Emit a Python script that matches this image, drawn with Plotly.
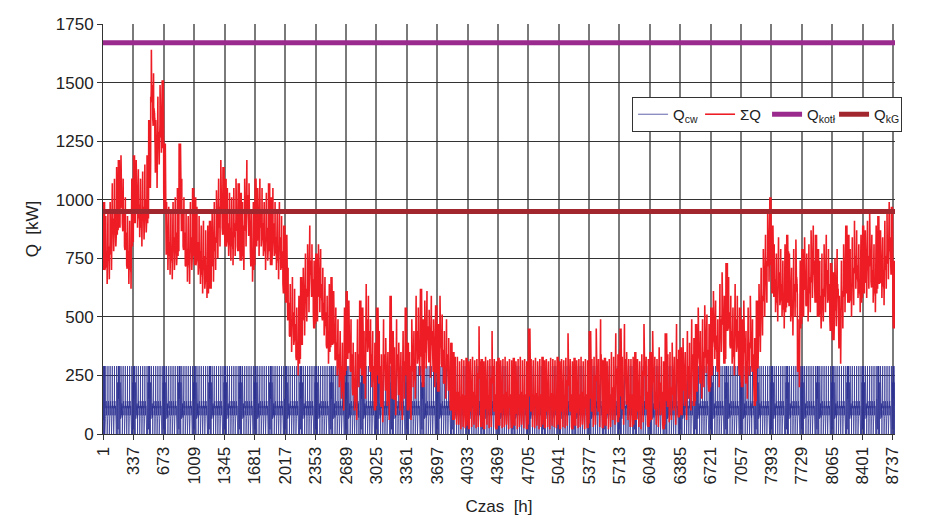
import plotly.graph_objects as go

# ---- data ----
# daily heating component (kW) of the total load, day 0..364
q_heat_daily = [
    700, 640, 660, 700, 780, 800, 850, 880, 900, 800, 720, 640, 620, 800, 900, 880, 840, 800, 830, 860, 900,
    1050, 1350, 1250, 1050, 1150, 1200, 1220, 950,
    700, 680, 660, 700, 720, 760,
    950,
    800, 720, 650, 640, 700, 760, 720, 680,
    640, 600, 620, 580, 600, 620, 650, 700,
    750, 800, 880, 850, 800, 760,
    740, 720, 760, 800, 780, 740,
    700, 800, 880, 780, 650, 700, 800, 760,
    800, 760, 700, 740, 780, 720,
    760, 700, 660, 700, 640, 600, 560,
    420, 350,
    380, 330, 250, 300, 380, 420,
    480, 520, 600, 520, 450, 480, 520, 500,
    420, 380, 300, 350, 380, 320, 250, 200, 150, 100,
    250, 320, 280, 200, 100, 60, 200, 280, 250, 150,
    350, 300, 200, 150, 100, 250, 150, 50, 200, 120, 60, 300, 150, 80, 200, 100, 60, 150, 250, 100, 60,
    200, 150, 300, 250, 330, 200, 280, 320, 240, 300, 200, 260, 180, 300, 220, 150, 200, 120, 100, 60, 40,
    40, 20, 30, 25, 35, 20, 30, 40, 25, 30,
    170, 30, 20, 40, 25, 30, 150, 30, 20, 35,
    25, 30, 40, 20, 30, 25, 35, 20, 30, 40,
    25, 30, 20, 160, 30, 25, 35, 20, 30, 40,
    25, 30, 20, 35, 30, 25, 40, 20, 30, 25,
    35, 140, 30, 20, 35, 25, 30, 40, 20, 30,
    25, 150, 30, 40, 160, 30, 200, 25, 35, 20,
    30, 60, 40, 140, 50, 160, 40, 180, 60, 30,
    30, 40, 60, 30, 20, 50, 180, 40, 30,
    60, 150, 40, 30, 80, 40, 20, 140, 50, 60, 100, 40, 180, 70,
    80, 120, 60, 150, 100, 200, 120, 180, 250, 150, 200, 260, 220, 180,
    250, 320, 280, 200, 350, 400, 300, 440, 380, 300, 250, 350, 300, 250,
    200, 280, 150, 250, 300, 200, 120, 280,
    350, 420, 500, 560, 650, 720, 600, 520,
    480, 550, 500, 450, 520, 560, 480, 420, 500, 540,
    200,
    450, 500, 550, 480, 520, 580, 600, 560,
    500, 450, 480, 520, 560, 500, 440, 400, 460, 500, 300, 450,
    520, 600, 560, 500, 550, 620, 580, 520, 560, 600,
    580, 620, 650, 560, 520, 600, 640, 580, 550, 620, 660, 700, 680, 450,
]

# hourly domestic hot water profiles (kW)
qcw_weekday = [90, 80, 70, 65, 75, 100, 120, 290, 110, 130, 90, 120,
               100, 140, 80, 110, 130, 100, 120, 90, 70, 100, 0, 60]
qcw_saturday = [60, 40, 20, 0, 20, 60, 150, 290, 250, 200, 150, 100,
                60, 30, 0, 30, 80, 150, 220, 290, 200, 120, 60, 20]
qcw_sunday = [80, 200, 290, 150, 40, 0, 100, 290, 200, 60, 0, 150,
              290, 180, 60, 0, 120, 290, 200, 80, 0, 100, 220, 120]

q_kotl = 1670
q_kg = 950

x_ticks = [1, 337, 673, 1009, 1345, 1681, 2017, 2353, 2689, 3025, 3361, 3697, 4033, 4369,
           4705, 5041, 5377, 5713, 6049, 6385, 6721, 7057, 7393, 7729, 8065, 8401, 8737]
y_ticks = [0, 250, 500, 750, 1000, 1250, 1500, 1750]

# ---- build hourly series from the read profiles ----
hours, qcw, qsum = [], [], []
for d, qh in enumerate(q_heat_daily):
    if d % 7 == 0:
        prof = qcw_sunday
    elif d % 7 == 6:
        prof = qcw_saturday
    else:
        prof = qcw_weekday
    for h, v in enumerate(prof):
        hours.append(d * 24 + h + 1)
        qcw.append(v)
        qsum.append(qh + v)

n_end = hours[-1]

fig = go.Figure()
fig.add_trace(go.Scatter(x=hours, y=qcw, mode="lines", name="Q<sub>cw</sub>",
                         line=dict(color="#2E3192", width=0.75)))
fig.add_trace(go.Scatter(x=hours, y=qsum, mode="lines", name="ΣQ",
                         line=dict(color="#EE1D25", width=1.6)))
fig.add_trace(go.Scatter(x=[1, n_end], y=[q_kotl, q_kotl], mode="lines", name="Q<sub>kotł</sub>",
                         line=dict(color="#9B2A8E", width=5)))
fig.add_trace(go.Scatter(x=[1, n_end], y=[q_kg, q_kg], mode="lines", name="Q<sub>kG</sub>",
                         line=dict(color="#A2262D", width=5)))

font_family = "Liberation Sans Narrow, Arial Narrow, Liberation Sans, Arial, sans-serif"

fig.update_layout(
    width=938, height=532,
    margin=dict(l=103, r=43, t=24, b=98),
    paper_bgcolor="white", plot_bgcolor="white",
    font=dict(family=font_family, size=17, color="#222"),
    showlegend=True,
    legend=dict(orientation="h", x=0.668, y=0.822, xanchor="left", yanchor="top",
                bgcolor="white", bordercolor="#333", borderwidth=1,
                font=dict(size=15), tracegroupgap=0,
                entrywidth=22, entrywidthmode="pixels", itemwidth=30),
    xaxis=dict(range=[1, n_end], tickmode="array", tickvals=x_ticks,
               ticktext=[str(v) for v in x_ticks], tickangle=-90,
               showgrid=True, gridcolor="#7a7a7a", gridwidth=1.5,
               showline=True, linecolor="#333", linewidth=1,
               ticks="outside", ticklen=5, tickcolor="#333",
               zeroline=False,
               title=dict(text="Czas  [h]", font=dict(size=17), standoff=16)),
    yaxis=dict(range=[0, 1750], tickmode="array", tickvals=y_ticks,
               showgrid=True, gridcolor="#333", gridwidth=1.2,
               showline=True, linecolor="#333", linewidth=1,
               ticks="outside", ticklen=5, tickcolor="#333",
               zeroline=False,
               title=dict(text="Q  [kW]", font=dict(size=17), standoff=12)),
)

fig.write_html("out.html")
